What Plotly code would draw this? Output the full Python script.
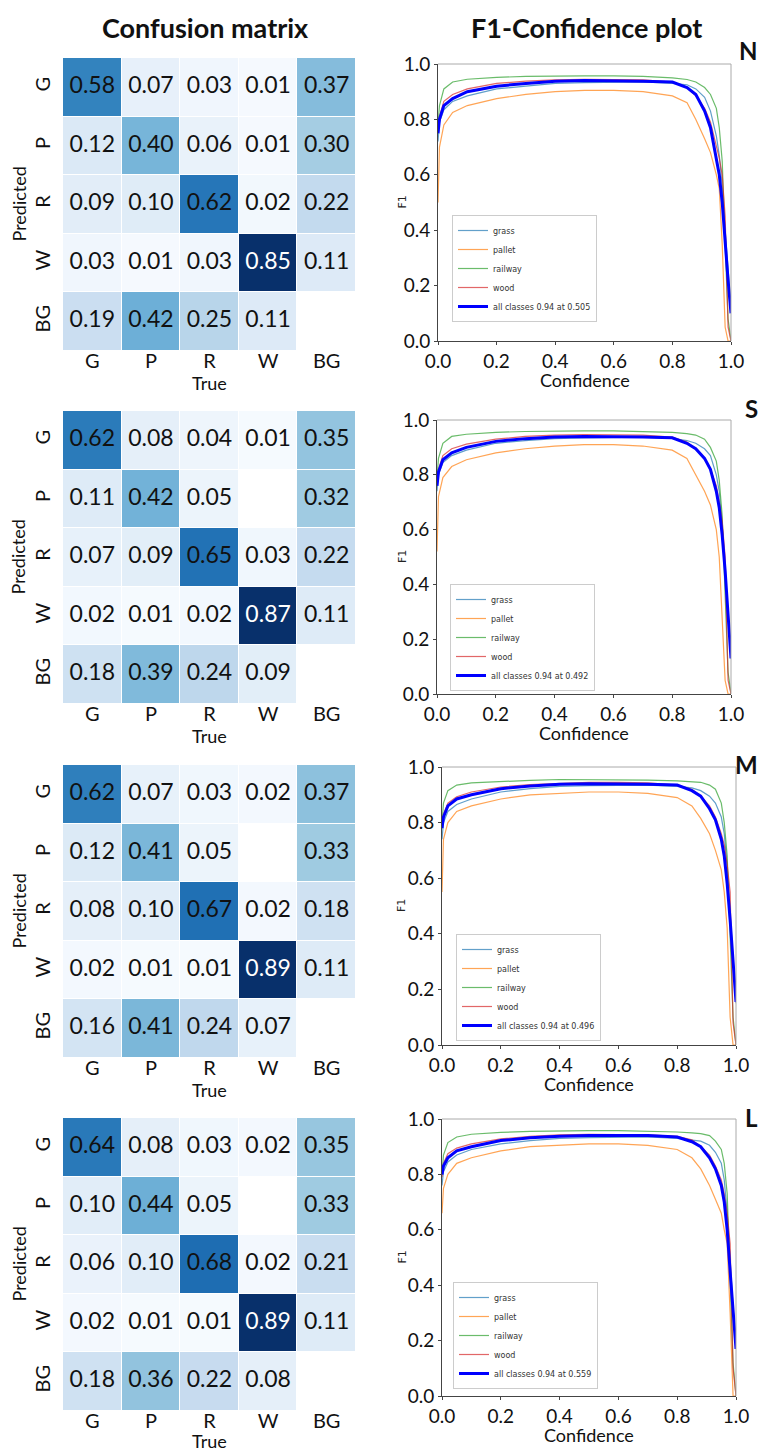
import plotly.graph_objects as go
import numpy as np

# page is 769x1452; the browser body adds an 8px margin around the figure
PAGE_W, PAGE_H, OFF = 769, 1452, 8
W, H = PAGE_W - 2 * OFF, PAGE_H - OFF

# ---------------- data ----------------
LABELS = ["G", "P", "R", "W", "BG"]
PANELS = ["N", "S", "M", "L"]
BEST = ["0.505", "0.492", "0.496", "0.559"]
BEST_F1 = "0.94"

nan = None
CM_N = [[0.58, 0.07, 0.03, 0.01, 0.37],
        [0.12, 0.40, 0.06, 0.01, 0.30],
        [0.09, 0.10, 0.62, 0.02, 0.22],
        [0.03, 0.01, 0.03, 0.85, 0.11],
        [0.19, 0.42, 0.25, 0.11, nan]]
CM_S = [[0.62, 0.08, 0.04, 0.01, 0.35],
        [0.11, 0.42, 0.05, nan, 0.32],
        [0.07, 0.09, 0.65, 0.03, 0.22],
        [0.02, 0.01, 0.02, 0.87, 0.11],
        [0.18, 0.39, 0.24, 0.09, nan]]
CM_M = [[0.62, 0.07, 0.03, 0.02, 0.37],
        [0.12, 0.41, 0.05, nan, 0.33],
        [0.08, 0.10, 0.67, 0.02, 0.18],
        [0.02, 0.01, 0.01, 0.89, 0.11],
        [0.16, 0.41, 0.24, 0.07, nan]]
CM_L = [[0.64, 0.08, 0.03, 0.02, 0.35],
        [0.10, 0.44, 0.05, nan, 0.33],
        [0.06, 0.10, 0.68, 0.02, 0.21],
        [0.02, 0.01, 0.01, 0.89, 0.11],
        [0.18, 0.36, 0.22, 0.08, nan]]

CONF = [0, 0.005, 0.02, 0.05, 0.1, 0.2, 0.3, 0.4, 0.5, 0.6, 0.7, 0.8,
        0.85, 0.88, 0.91, 0.93, 0.95, 0.96, 0.97, 0.98, 0.99, 1.0]

GRASS_N = [0.72, 0.79, 0.835, 0.865, 0.885, 0.91, 0.92, 0.93, 0.933, 0.935, 0.935, 0.93, 0.925, 0.91, 0.88, 0.83, 0.74, 0.67, 0.56, 0.40, 0.26, 0.12]
PALLET_N = [0.50, 0.70, 0.78, 0.825, 0.85, 0.875, 0.89, 0.90, 0.905, 0.905, 0.90, 0.885, 0.86, 0.80, 0.73, 0.68, 0.60, 0.55, 0.35, 0.05, 0.0, 0.0]
RAILWAY_N = [0.78, 0.85, 0.91, 0.935, 0.945, 0.952, 0.955, 0.957, 0.957, 0.957, 0.955, 0.95, 0.944, 0.935, 0.915, 0.89, 0.84, 0.77, 0.65, 0.35, 0.08, 0.0]
WOOD_N = [0.76, 0.81, 0.865, 0.89, 0.91, 0.93, 0.938, 0.943, 0.945, 0.945, 0.943, 0.935, 0.915, 0.885, 0.84, 0.79, 0.71, 0.66, 0.60, 0.45, 0.05, 0.0]
ALL_N = [0.75, 0.80, 0.85, 0.875, 0.90, 0.92, 0.93, 0.938, 0.94, 0.94, 0.938, 0.935, 0.915, 0.89, 0.83, 0.77, 0.66, 0.60, 0.50, 0.34, 0.22, 0.10]

GRASS_S = [0.74, 0.80, 0.845, 0.87, 0.89, 0.915, 0.925, 0.932, 0.935, 0.937, 0.937, 0.933, 0.925, 0.915, 0.895, 0.87, 0.80, 0.74, 0.62, 0.45, 0.28, 0.13]
PALLET_S = [0.52, 0.72, 0.79, 0.83, 0.855, 0.88, 0.895, 0.905, 0.91, 0.91, 0.905, 0.89, 0.86, 0.80, 0.74, 0.69, 0.60, 0.50, 0.30, 0.05, 0.0, 0.0]
RAILWAY_S = [0.79, 0.86, 0.915, 0.94, 0.948, 0.955, 0.958, 0.96, 0.96, 0.96, 0.958, 0.955, 0.95, 0.945, 0.93, 0.90, 0.85, 0.78, 0.65, 0.35, 0.08, 0.0]
WOOD_S = [0.77, 0.82, 0.87, 0.895, 0.912, 0.93, 0.94, 0.945, 0.947, 0.947, 0.945, 0.938, 0.92, 0.895, 0.86, 0.82, 0.76, 0.70, 0.63, 0.50, 0.05, 0.0]
ALL_S = [0.76, 0.81, 0.855, 0.88, 0.90, 0.922, 0.932, 0.938, 0.94, 0.94, 0.938, 0.935, 0.915, 0.895, 0.86, 0.82, 0.74, 0.68, 0.58, 0.45, 0.30, 0.13]

GRASS_M = [0.74, 0.80, 0.84, 0.865, 0.885, 0.91, 0.922, 0.93, 0.933, 0.935, 0.935, 0.93, 0.925, 0.915, 0.895, 0.87, 0.82, 0.76, 0.64, 0.47, 0.30, 0.15]
PALLET_M = [0.55, 0.74, 0.80, 0.84, 0.86, 0.885, 0.90, 0.905, 0.91, 0.91, 0.905, 0.89, 0.86, 0.815, 0.76, 0.70, 0.63, 0.55, 0.42, 0.10, 0.0, 0.0]
RAILWAY_M = [0.80, 0.87, 0.915, 0.935, 0.943, 0.948, 0.952, 0.955, 0.955, 0.955, 0.953, 0.95, 0.948, 0.945, 0.935, 0.92, 0.87, 0.80, 0.68, 0.40, 0.10, 0.0]
WOOD_M = [0.78, 0.83, 0.87, 0.893, 0.91, 0.928, 0.937, 0.942, 0.945, 0.945, 0.943, 0.935, 0.92, 0.895, 0.86, 0.82, 0.76, 0.72, 0.65, 0.55, 0.08, 0.0]
ALL_M = [0.78, 0.82, 0.86, 0.885, 0.90, 0.922, 0.932, 0.938, 0.94, 0.94, 0.938, 0.935, 0.915, 0.895, 0.85, 0.81, 0.74, 0.68, 0.58, 0.45, 0.30, 0.155]

GRASS_L = [0.76, 0.81, 0.845, 0.87, 0.89, 0.91, 0.922, 0.93, 0.933, 0.935, 0.935, 0.93, 0.925, 0.92, 0.905, 0.88, 0.84, 0.78, 0.66, 0.48, 0.32, 0.17]
PALLET_L = [0.66, 0.75, 0.80, 0.84, 0.86, 0.885, 0.90, 0.905, 0.91, 0.91, 0.905, 0.89, 0.86, 0.82, 0.76, 0.71, 0.66, 0.60, 0.55, 0.30, 0.0, 0.0]
RAILWAY_L = [0.80, 0.87, 0.915, 0.935, 0.945, 0.952, 0.955, 0.957, 0.958, 0.958, 0.956, 0.953, 0.95, 0.947, 0.94, 0.92, 0.89, 0.84, 0.73, 0.45, 0.12, 0.0]
WOOD_L = [0.79, 0.84, 0.875, 0.895, 0.91, 0.928, 0.937, 0.943, 0.945, 0.945, 0.943, 0.937, 0.925, 0.90, 0.87, 0.83, 0.78, 0.73, 0.66, 0.55, 0.10, 0.0]
ALL_L = [0.80, 0.83, 0.86, 0.885, 0.90, 0.922, 0.932, 0.938, 0.94, 0.94, 0.94, 0.935, 0.918, 0.90, 0.86, 0.82, 0.76, 0.70, 0.60, 0.45, 0.30, 0.17]

CLASS_NAMES = ["grass", "pallet", "railway", "wood"]
CLASS_COLORS = ["#1f77b4", "#ff7f0e", "#2ca02c", "#d62728"]

CMS = [CM_N, CM_S, CM_M, CM_L]
CURVES = [
    [GRASS_N, PALLET_N, RAILWAY_N, WOOD_N, ALL_N],
    [GRASS_S, PALLET_S, RAILWAY_S, WOOD_S, ALL_S],
    [GRASS_M, PALLET_M, RAILWAY_M, WOOD_M, ALL_M],
    [GRASS_L, PALLET_L, RAILWAY_L, WOOD_L, ALL_L],
]

# ---------------- layout geometry (page pixels) ----------------
HM_X = (63, 356)
HM_TOP = [58, 411, 765, 1118]
HM_SIZE = 293
TRUE_GAP = [32, 32, 32, 30]
F1_X = [(438, 731), (437, 731), (442, 736), (442, 736)]
F1_Y = [(64, 341), (420, 694), (767, 1045), (1119, 1396)]
LEG_BOTTOM = [(452, 322), (450, 691), (456, 1041), (453, 1389)]
LETTER_Y = [50, 409, 764, 1117]

def fx(p):
    return (p - OFF) / W

def fy(p):
    return 1 - (p - OFF) / H

FONT = "Lato"
fig = go.Figure()
layout = dict(width=W, height=H, margin=dict(l=0, r=0, t=0, b=0, autoexpand=False),
              paper_bgcolor="white", plot_bgcolor="white", showlegend=True)
annotations = []
shapes = []

for k in range(4):
    hx = 2 * k + 1
    fxn = 2 * k + 2
    xa_h = "x" if hx == 1 else f"x{hx}"
    ya_h = "y" if hx == 1 else f"y{hx}"
    xa_f, ya_f = f"x{fxn}", f"y{fxn}"

    cm = np.array([[np.nan if v is None else v for v in row] for row in CMS[k]], dtype=float)
    zmax = np.nanmax(cm)
    fig.add_trace(go.Heatmap(
        z=cm.tolist(), x=list(range(5)), y=list(range(5)),
        colorscale="Blues", zmin=0, zmax=zmax, showscale=False,
        xgap=1, ygap=1, hoverinfo="skip", xaxis=xa_h, yaxis=ya_h))
    tx, ty, tt, tc = [], [], [], []
    for i in range(5):
        for j in range(5):
            v = cm[i, j]
            if np.isnan(v):
                continue
            tx.append(j); ty.append(i); tt.append(f"{v:.2f}")
            tc.append("white" if v / zmax > 0.85 else "#111111")
    fig.add_trace(go.Scatter(
        x=tx, y=ty, text=tt, mode="text", textposition="middle center",
        textfont=dict(family=FONT, size=23, color=tc), hoverinfo="skip",
        showlegend=False, xaxis=xa_h, yaxis=ya_h))

    top = HM_TOP[k]
    layout["xaxis" if hx == 1 else f"xaxis{hx}"] = dict(
        domain=[fx(HM_X[0]), fx(HM_X[1])], range=[-0.5, 4.5], anchor=ya_h,
        tickvals=list(range(5)), ticktext=LABELS, showgrid=False, zeroline=False,
        showline=False, ticks="", tickfont=dict(family=FONT, size=20, color="#111"),
        ticklabelstandoff=-4, fixedrange=True, automargin=False)
    layout["yaxis" if hx == 1 else f"yaxis{hx}"] = dict(
        domain=[fy(top + HM_SIZE), fy(top)], range=[4.5, -0.5], anchor=xa_h,
        tickvals=list(range(5)), ticktext=LABELS, showgrid=False, zeroline=False,
        showline=False, ticks="", tickangle=-90,
        tickfont=dict(family=FONT, size=20, color="#111"),
        ticklabelstandoff=8, fixedrange=True, automargin=False)
    annotations.append(dict(text="True", x=fx(HM_X[0] + 2.5 * HM_SIZE / 5),
                            y=fy(top + HM_SIZE + TRUE_GAP[k]), xref="paper", yref="paper",
                            showarrow=False, font=dict(family=FONT, size=18, color="#111"),
                            xanchor="center", yanchor="middle", borderpad=0))
    annotations.append(dict(text="Predicted", x=fx(18), y=fy(top + HM_SIZE / 2),
                            xref="paper", yref="paper", textangle=-90, showarrow=False,
                            font=dict(family=FONT, size=18, color="#111"),
                            xanchor="center", yanchor="middle"))

    # F1 curves
    legname = "legend" if k == 0 else f"legend{k + 1}"
    series = CURVES[k]
    for c in range(4):
        fig.add_trace(go.Scatter(
            x=CONF, y=series[c], mode="lines", name=CLASS_NAMES[c],
            line=dict(color=CLASS_COLORS[c], width=1.2), opacity=0.7,
            xaxis=xa_f, yaxis=ya_f, legend=legname, hoverinfo="skip"))
    fig.add_trace(go.Scatter(
        x=CONF, y=series[4], mode="lines", name=f"all classes {BEST_F1} at {BEST[k]}",
        line=dict(color="#0000ff", width=3), xaxis=xa_f, yaxis=ya_f,
        legend=legname, hoverinfo="skip"))

    (x0, x1), (y0, y1) = F1_X[k], F1_Y[k]
    axfont = dict(family=FONT, size=19, color="#111")
    layout[f"xaxis{fxn}"] = dict(
        domain=[fx(x0), fx(x1)], range=[0, 1], anchor=ya_f,
        tickvals=[0, 0.2, 0.4, 0.6, 0.8, 1.0], tickformat=".1f",
        showgrid=False, zeroline=False, showline=True, linecolor="#444", linewidth=1,
        ticks="outside", ticklen=3, tickcolor="#444", tickfont=axfont,
        fixedrange=True, automargin=False)
    layout[f"yaxis{fxn}"] = dict(
        domain=[fy(y1), fy(y0)], range=[0, 1], anchor=xa_f,
        tickvals=[0, 0.2, 0.4, 0.6, 0.8, 1.0], tickformat=".1f",
        showgrid=False, zeroline=False, showline=True, linecolor="#444", linewidth=1,
        ticks="outside", ticklen=3, tickcolor="#444", tickfont=axfont,
        fixedrange=True, automargin=False)
    shapes.append(dict(type="line", xref=f"{xa_f} domain", yref=f"{ya_f} domain",
                       x0=0, x1=1, y0=1, y1=1, line=dict(color="#aaaaaa", width=1)))
    shapes.append(dict(type="line", xref=f"{xa_f} domain", yref=f"{ya_f} domain",
                       x0=1, x1=1, y0=0, y1=1, line=dict(color="#aaaaaa", width=1)))
    annotations.append(dict(text="Confidence", x=fx((x0 + x1) / 2), y=fy(y1 + 39),
                            xref="paper", yref="paper", showarrow=False,
                            font=dict(family=FONT, size=18, color="#111"),
                            xanchor="center", yanchor="middle"))
    annotations.append(dict(text="F1", x=fx(402), y=fy((y0 + y1) / 2),
                            xref="paper", yref="paper", showarrow=False, textangle=-90,
                            font=dict(family="DejaVu Sans", size=11, color="#222"),
                            xanchor="center", yanchor="middle"))
    annotations.append(dict(text=f"<b>{PANELS[k]}</b>", x=fx(759), y=fy(LETTER_Y[k]),
                            xref="paper", yref="paper", showarrow=False,
                            font=dict(family=FONT, size=24, color="#111"),
                            xanchor="right", yanchor="middle", borderpad=0))
    lx, ly = LEG_BOTTOM[k]
    layout[legname] = dict(x=fx(lx), y=fy(ly), xanchor="left", yanchor="bottom",
                           bgcolor="rgba(255,255,255,0.85)", bordercolor="#cccccc",
                           borderwidth=1, font=dict(family="DejaVu Sans", size=8, color="#333"),
                           itemwidth=30, tracegroupgap=0)

annotations.append(dict(text="<b>Confusion matrix</b>", x=fx(205), y=fy(27), xref="paper",
                        yref="paper", showarrow=False, font=dict(family=FONT, size=27, color="#111"),
                        xanchor="center", yanchor="middle"))
annotations.append(dict(text="<b>F1-Confidence plot</b>", x=fx(586), y=fy(27), xref="paper",
                        yref="paper", showarrow=False, font=dict(family=FONT, size=27, color="#111"),
                        xanchor="center", yanchor="middle"))

layout["annotations"] = annotations
layout["shapes"] = shapes
fig.update_layout(**layout)
fig.write_html("out.html")
